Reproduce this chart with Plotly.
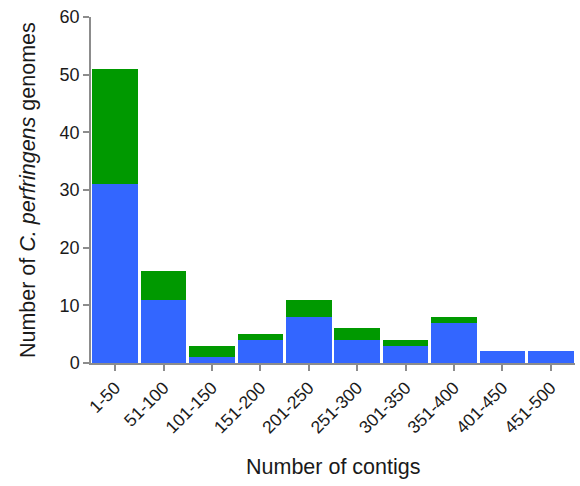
import plotly.graph_objects as go

# Contig-count bins and genome counts per group
categories = ["1-50", "51-100", "101-150", "151-200", "201-250",
              "251-300", "301-350", "351-400", "401-450", "451-500"]
blue_counts = [31, 11, 1, 4, 8, 4, 3, 7, 2, 2]
green_counts = [20, 5, 2, 1, 3, 2, 1, 1, 0, 0]
y_ticks = [0, 10, 20, 30, 40, 50, 60]

FONT = "Liberation Sans, Arial, sans-serif"
AXIS_GREY = "#8c8c8c"
TEXT = "#1a1a1a"

fig = go.Figure()
fig.add_trace(go.Bar(x=categories, y=blue_counts, marker_color="#3366FF",
                     marker_line_width=0, name="blue"))
fig.add_trace(go.Bar(x=categories, y=green_counts, marker_color="#009900",
                     marker_line_width=0, name="green"))

fig.update_layout(
    barmode="stack",
    bargap=0.06,
    width=580, height=486,
    margin=dict(l=91, r=5, t=17, b=123),
    paper_bgcolor="white", plot_bgcolor="white",
    showlegend=False,
    font=dict(family=FONT, size=16, color=TEXT),
)

fig.update_xaxes(
    type="category",
    showline=True, linecolor=AXIS_GREY, linewidth=1.5,
    ticks="outside", ticklen=6, tickcolor=AXIS_GREY, tickwidth=1.5,
    tickangle=-45, tickfont=dict(size=17.5, family=FONT, color=TEXT),
    showgrid=False, zeroline=False, automargin=False,
)
fig.update_yaxes(
    range=[0, 60], tickvals=y_ticks,
    showline=True, linecolor=AXIS_GREY, linewidth=1.5,
    ticks="outside", ticklen=6, tickcolor=AXIS_GREY, tickwidth=1.5,
    tickfont=dict(size=18, family=FONT, color=TEXT),
    showgrid=False, zeroline=False, automargin=False,
)

fig.add_annotation(
    text="Number of contigs", xref="paper", yref="paper",
    x=0.5, y=-0.30, xanchor="center", yanchor="middle",
    showarrow=False, font=dict(size=21.5, family=FONT, color=TEXT),
)
fig.add_annotation(
    text="Number of <i>C. perfringens</i> genomes", xref="paper", yref="paper",
    x=-0.130, y=0.5, xanchor="center", yanchor="middle", textangle=-90,
    showarrow=False, font=dict(size=21.5, family=FONT, color=TEXT),
)

fig.write_html("out.html")
